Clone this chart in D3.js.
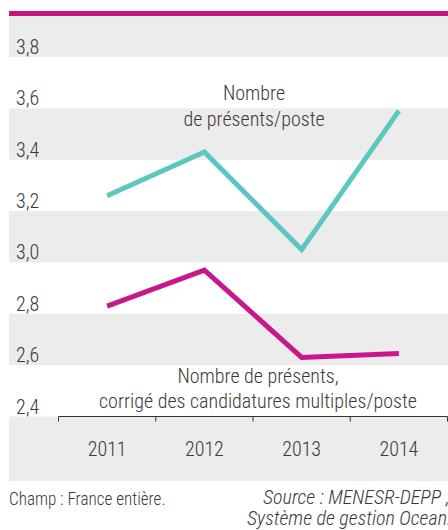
<!DOCTYPE html>
<html><head><meta charset="utf-8">
<script src="https://cdn.jsdelivr.net/npm/d3@7"></script>
<style>
html,body{margin:0;padding:0;background:#fff;overflow:hidden;}
svg{display:block;font-family:"Roboto Condensed","Liberation Sans Narrow","DejaVu Sans Condensed",sans-serif;font-weight:300;}
svg text{font-weight:300;}
</style></head>
<body>
<script>
const years = ["2011","2012","2013","2014"];
const presents = [3.26, 3.43, 3.05, 3.59];
const corriges = [2.83, 2.97, 2.63, 2.645];
const yTicks = [2.4, 2.6, 2.8, 3.0, 3.2, 3.4, 3.6, 3.8];
const labelPresents = ["Nombre", "de présents/poste"];
const labelCorriges = ["Nombre de présents,", "corrigé des candidatures multiples/poste"];
const footLeft = "Champ : France entière.";
const footRight = ["Source : MENESR-DEPP ,", "Système de gestion Ocean."];

const W = 448, H = 530;
const svg = d3.select("body").append("svg").attr("width", W).attr("height", H);
const textColor = "#3a3a3a";
const grey = "#ececec";

const x = d3.scaleBand().domain(years).range([58.5, 447.5]);
const y = d3.scaleLinear().domain([2.4, 3.8]).range([416.5, 57]);

svg.append("rect").attr("x", 9).attr("y", 11).attr("width", W - 9).attr("height", 5).attr("fill", "#c4147f");
svg.append("rect").attr("x", 9).attr("y", 16).attr("width", W - 9).attr("height", y(3.8) - 16).attr("fill", grey);
const bandStarts = [3.4, 3.0, 2.6];
svg.selectAll("rect.band").data(bandStarts).enter().append("rect")
  .attr("x", 9).attr("width", W - 9)
  .attr("y", d => y(d + 0.2)).attr("height", d => y(d) - y(d + 0.2))
  .attr("fill", grey);
svg.append("rect").attr("x", 9).attr("y", y(2.4)).attr("width", W - 9).attr("height", 481 - y(2.4)).attr("fill", grey);

svg.selectAll("text.yl").data(yTicks).enter().append("text")
  .attr("x", 16).attr("y", d => y(d) - 3)
  .attr("font-size", 20).attr("fill", textColor)
  .text(d => d3.format(".1f")(d).replace(".", ","));

const xAxis = d3.axisBottom(x).tickSize(5).tickFormat("");
const gx = svg.append("g").attr("transform", `translate(0,${y(2.4)})`).call(xAxis);
gx.select(".domain").attr("stroke", "#333").attr("d", `M${x.range()[0]},0H${x.range()[1]}`);
gx.selectAll(".tick").remove();
const boundaries = years.map(d => x(d)).concat([x.range()[1]]);
gx.selectAll("line.tk").data(boundaries).enter().append("line")
  .attr("x1", d => d).attr("x2", d => d).attr("y1", 0).attr("y2", 5)
  .attr("stroke", "#333");
svg.selectAll("text.xl").data(years).enter().append("text")
  .attr("x", d => x(d) + x.bandwidth() / 2).attr("y", 456)
  .attr("text-anchor", "middle").attr("font-size", 20).attr("fill", textColor)
  .text(d => d);

const line = d3.line().x((d, i) => x(years[i]) + x.bandwidth() / 2).y(d => y(d));
svg.append("path").datum(presents).attr("d", line).attr("fill", "none")
  .attr("stroke", "#5bc8c0").attr("stroke-width", 5).attr("stroke-linejoin", "miter");
svg.append("path").datum(corriges).attr("d", line).attr("fill", "none")
  .attr("stroke", "#c8168c").attr("stroke-width", 5).attr("stroke-linejoin", "miter");

svg.selectAll("text.lp").data(labelPresents).enter().append("text")
  .attr("x", 254).attr("y", (d, i) => 100 + i * 26)
  .attr("text-anchor", "middle").attr("font-size", 20).attr("fill", textColor).text(d => d);
svg.selectAll("text.lc").data(labelCorriges).enter().append("text")
  .attr("x", 258).attr("y", (d, i) => 383 + i * 25)
  .attr("text-anchor", "middle").attr("font-size", 20).attr("fill", textColor).text(d => d);

svg.append("text").attr("transform", "translate(9,505) scale(0.9,1)")
  .attr("font-size", 19).attr("fill", textColor).text(footLeft);
svg.selectAll("text.fr").data(footRight).enter().append("text")
  .attr("x", (d, i) => i === 0 ? 263 : 247).attr("y", (d, i) => i === 0 ? 504 : 525)
  .attr("font-size", 20).attr("font-style", "italic").attr("fill", textColor).text(d => d);
</script>
</body></html>
